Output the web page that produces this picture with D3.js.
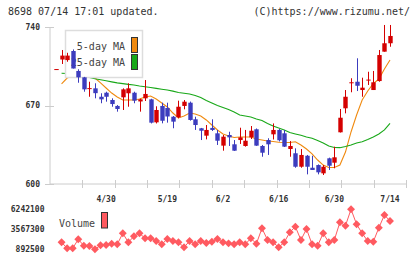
<!DOCTYPE html>
<html>
<head>
<meta charset="utf-8">
<script src="https://cdn.jsdelivr.net/npm/d3@7"></script>
<style>
  body { margin: 0; background: #fff; }
  text { font-family: "DejaVu Sans Mono", monospace; }
</style>
</head>
<body>
<div id="chart"></div>
<script>
// trading days shown on the chart
const dates = ["4/16","4/17","4/18","4/21","4/22","4/23","4/24","4/25","4/28","4/30",
  "5/1","5/2","5/7","5/8","5/9","5/12","5/13","5/14","5/15","5/16",
  "5/19","5/20","5/21","5/22","5/23","5/26","5/27","5/28","5/29","5/30",
  "6/2","6/3","6/4","6/5","6/6","6/9","6/10","6/11","6/12","6/13",
  "6/16","6/17","6/18","6/19","6/20","6/23","6/24","6/25","6/26","6/27",
  "6/30","7/1","7/2","7/3","7/4","7/7","7/8","7/9","7/10","7/11","7/14"];

const open = [702,711,710.5,718.6,700.8,695.1,685,685.3,677.8,681.4,
  674.9,669.6,677.3,680.9,681.4,673.6,676.4,675.5,655,669.6,
  667.8,660,659.5,669.6,672.5,657.7,649.7,643.1,650,645.2,
  634.2,643.7,635.4,639.2,633.9,641.6,648.8,633.9,639.2,644.3,
  648.2,645.2,631.2,627.4,615.4,625.2,614.5,616.9,609.5,622.9,
  619,646.1,667.5,689.9,691.2,683.8,692.5,683.8,691.8,718,725.5];
const high = [702.5,719.5,717,720,702.3,695.5,691.2,689.8,680.9,682.3,
  676.4,670.4,685.3,689.8,682.3,676,692.7,676,669.3,672.5,
  672.5,660.6,674.3,674.9,673.5,660,650,652.6,657.7,648.2,
  643.7,646.6,639.2,650.2,648.2,651.7,649.5,634.8,640.8,654,
  649,648.2,638.3,631.8,631.2,625.9,625.2,617.5,616.9,623.5,
  633.3,666.9,683.8,694.3,712.1,694.8,700.1,700.8,719.5,741.8,741.8];
const low = [702,707,709,703,690.3,682.3,677.8,676.4,672,673.4,
  668.9,664.5,666,668.9,672,664.5,674,654,654,654.1,
  654.7,649.7,658.6,666.6,656.5,648.2,639.2,639.8,647.3,634.8,
  629.7,633.9,629.5,635.7,633.3,640.1,634,624.3,625.9,639.7,
  637.9,633,624.3,614.5,614.5,608.6,612.5,608.6,608,612.5,
  614,645.9,663,681.8,682.9,677.8,688.3,683.8,691.2,718,722.4];
const close = [702.5,714.5,714.5,703,695.1,684.4,685.5,681,675.5,677.8,
  671.3,666.9,684.4,685.3,674.3,675.5,680.3,654.7,666,656.4,
  660.2,655.6,668.9,673.4,657.1,652.6,647.5,648.2,648.2,638.6,
  642.2,641.6,629.7,641.6,638.6,647.5,634.2,627.9,635.4,648.2,
  639,633.3,633.9,615.4,625.9,615.4,612.5,610.4,615.4,616.3,
  623.8,659.1,677.8,690.7,687.6,685.9,693.1,690.7,715,725.5,732];

const ma5 = [null,689.2,694.5,696.3,697.2,697.2,696.3,694.5,690.1,685.6,
  681.1,677.6,674.9,674.9,674.9,675.8,677.6,678.5,675.8,672.2,
  668.7,663.3,658.9,660.6,663.3,662.4,660.6,657.1,652.6,648.2,
  644.6,642.8,641.5,641.9,641.9,641.9,640.1,639.2,638.3,637.9,
  637.2,637,637,637.7,634.8,631.2,626.8,621.4,616.9,614.7,
  614.7,616.9,628.5,646.4,661.5,674.9,682.9,689.6,693.6,702.5,710.6];
const ma25 = [null,698.7,698.5,697.6,696.8,695.9,695,693.8,692.9,692.1,
  691.1,690.2,689.5,688.8,688.3,687.4,686.7,686.1,685.3,684.5,
  683.8,682.8,681.6,680.9,680.3,678.9,677.1,674.5,672.2,670,
  668.2,666.4,664.2,661.5,660.6,659.7,658,656.6,653.9,651.7,
  649.9,648.2,645.9,644.6,643.4,641.9,640.8,638.8,636.6,633.9,
  632.5,632.4,633.4,634.8,636.6,637.7,639.7,641.9,644.6,648.2,654.1];

const volume = [null,1790000,990000,990000,2190000,1330000,1290000,850000,1390000,1430000,
  1600000,1520000,2990000,1790000,2590000,2990000,2320000,2320000,1960000,1520000,
  2230000,1960000,1790000,1120000,1960000,1520000,1960000,1700000,1870000,2230000,
  1790000,1650000,1520000,1790000,1520000,2320000,1600000,3660000,2100000,1790000,
  1120000,1790000,3130000,3880000,2100000,3570000,1520000,1330000,2990000,1790000,
  2100000,4460000,4010000,6200000,4200000,2990000,1960000,1870000,3740000,5440000,4640000];

const priceTicks = [600, 670, 740];
const volumeTicks = [892500, 3567300, 6242100];
const dateTicks = ["4/30","5/19","6/2","6/16","6/30","7/14"];

const W = 420, H = 259;
const svg = d3.select("#chart").append("svg")
  .attr("width", W).attr("height", H);

const upColor = "#d40000", downColor = "#3c3cbe";
const maColors = ["#f08a10", "#18a818"];
const volColor = "#ff5a60";

let x = d3.scalePoint().domain(dates).range([56, 390]);
let y = d3.scaleLinear().domain([600, 740]).range([184, 27]);
let yv = d3.scaleLinear().domain([892500, 6242100]).range([249, 209]);

// header
svg.append("text").attr("x", 8).attr("y", 15)
  .attr("font-size", 10).attr("fill", "#333")
  .text("8698 07/14 17:01 updated.");
svg.append("text").attr("x", 410).attr("y", 15)
  .attr("font-size", 10).attr("fill", "#333").attr("text-anchor", "end")
  .text("(C)https://www.rizumu.net/");

// axes
svg.append("line").attr("x1", 50).attr("x2", 50).attr("y1", 27).attr("y2", 184)
  .attr("stroke", "#ccc");
svg.append("line").attr("x1", 50).attr("x2", 406).attr("y1", 184).attr("y2", 184)
  .attr("stroke", "#ccc");

let xt = d3.scaleLinear().domain([0, 11]).range([50, 406]);
svg.selectAll(".xtick").data(d3.range(1, 12)).join("line")
  .attr("x1", d => Math.round(xt(d)) + 0.5).attr("x2", d => Math.round(xt(d)) + 0.5)
  .attr("y1", 180).attr("y2", 188).attr("stroke", "#ccc");

svg.selectAll(".ytick").data(priceTicks).join("line")
  .attr("x1", 45).attr("x2", 54)
  .attr("y1", d => Math.round(y(d)) + 0.5).attr("y2", d => Math.round(y(d)) + 0.5)
  .attr("stroke", "#ccc");

svg.selectAll(".ylab").data(priceTicks).join("text")
  .attr("x", 40).attr("y", d => y(d) + 2.8)
  .attr("text-anchor", "end").attr("font-size", 8).attr("font-weight", "bold")
  .attr("fill", "#333").text(d => d);

svg.selectAll(".xlab").data(dateTicks).join("text")
  .attr("x", d => x(d)).attr("y", 201.5)
  .attr("text-anchor", "middle").attr("font-size", 8).attr("font-weight", "bold")
  .attr("fill", "#333").text(d => d);

// moving averages
let idx = d3.range(dates.length);
[ma5, ma25].forEach((ma, k) => {
  let line = d3.line()
    .defined(i => ma[i] != null)
    .x(i => x(dates[i]))
    .y(i => y(ma[i]));
  svg.append("path").datum(idx)
    .attr("d", line).attr("fill", "none")
    .attr("stroke", maColors[k]).attr("stroke-width", 1.1);
});

// legend (sits over the MA lines, under the candles)
svg.append("rect").attr("x", 65.5).attr("y", 30.5).attr("width", 77).attr("height", 47)
  .attr("fill", "#fff").attr("stroke", "#ddd").attr("stroke-width", 1.5);
const legendNames = ["5-day MA", "25-day MA"];
legendNames.forEach((name, k) => {
  svg.append("text").attr("x", 125).attr("y", 49.5 + k * 16.5)
    .attr("text-anchor", "end").attr("font-size", 10).attr("fill", "#444")
    .text(name);
  svg.append("rect").attr("x", 131.5).attr("y", 37.5 + k * 17).attr("width", 6).attr("height", 15)
    .attr("fill", maColors[k]).attr("stroke", "#333");
});

// candles
let bw = 4.4;
let candles = svg.append("g").selectAll("g").data(idx).join("g");
candles.append("line")
  .attr("x1", i => Math.round(x(dates[i])) + 0.5)
  .attr("x2", i => Math.round(x(dates[i])) + 0.5)
  .attr("y1", i => y(high[i])).attr("y2", i => y(low[i]))
  .attr("stroke", i => close[i] >= open[i] ? upColor : downColor);
candles.append("rect")
  .attr("x", i => Math.round(x(dates[i])) + 0.5 - bw / 2)
  .attr("width", bw)
  .attr("y", i => y(Math.max(open[i], close[i])))
  .attr("height", i => Math.max(1, Math.abs(y(open[i]) - y(close[i]))))
  .attr("fill", i => close[i] >= open[i] ? upColor : downColor);

// volume
svg.selectAll(".vlab").data(volumeTicks).join("text")
  .attr("x", 44.5).attr("y", d => yv(d) + 2.5)
  .attr("text-anchor", "end").attr("font-size", 8).attr("font-weight", "bold")
  .attr("fill", "#333").text(d => d);

let vline = d3.line()
  .defined(i => volume[i] != null)
  .x(i => x(dates[i]))
  .y(i => yv(volume[i]));
svg.append("path").datum(idx)
  .attr("d", vline).attr("fill", "none")
  .attr("stroke", volColor).attr("stroke-width", 1);

svg.selectAll(".vpt").data(idx.filter(i => volume[i] != null)).join("path")
  .attr("d", d3.symbol(d3.symbolDiamond2, 40))
  .attr("transform", i => `translate(${x(dates[i])},${yv(volume[i])})`)
  .attr("fill", volColor);

svg.append("text").attr("x", 59).attr("y", 226.5)
  .attr("font-size", 10).attr("fill", "#444").text("Volume");
svg.append("rect").attr("x", 101.5).attr("y", 212.5).attr("width", 6).attr("height", 15.5)
  .attr("fill", volColor).attr("stroke", "#333");
</script>
</body>
</html>
